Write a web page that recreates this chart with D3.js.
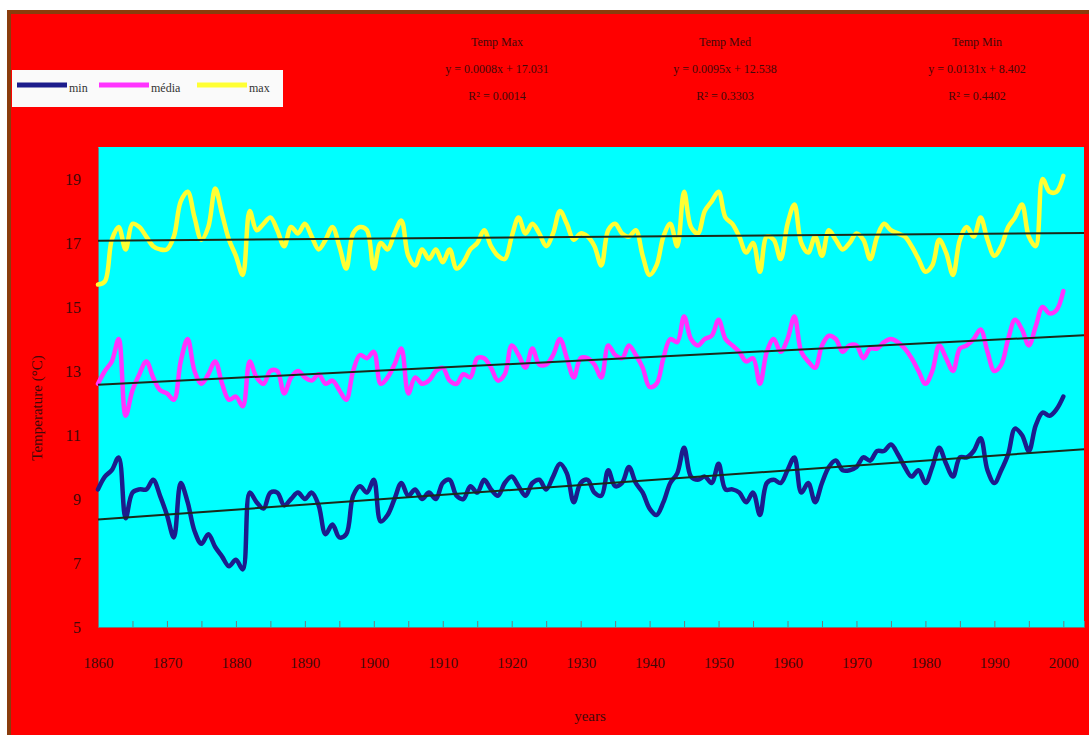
<!DOCTYPE html>
<html>
<head>
<meta charset="utf-8">
<script src="https://cdn.jsdelivr.net/npm/d3@7"></script>
<style>
  body { margin: 0; background: #fff; }
  svg { display: block; }
  text { font-family: "Liberation Serif", "Times New Roman", serif; }
</style>
</head>
<body>
<svg width="1089" height="735"></svg>
<script>
// anos 1860..2000
const years = d3.range(1860, 2001);

// temperaturas
const tMax = [
  15.7, 15.8, 17.1, 17.5, 16.8, 17.6, 17.5, 17.2, 16.9, 16.8,
  16.8, 17.2, 18.3, 18.6, 17.8, 17.1, 17.5, 18.7, 17.9, 17.1,
  16.6, 16.0, 18.0, 17.4, 17.6, 17.8, 17.4, 16.9, 17.5, 17.3,
  17.6, 17.2, 16.8, 17.1, 17.5, 16.9, 16.2, 17.3, 17.5, 17.4,
  16.2, 17.0, 16.8, 17.3, 17.7, 16.6, 16.3, 16.8, 16.5, 16.8,
  16.4, 16.8, 16.2, 16.4, 16.8, 17.0, 17.4, 16.9, 16.6, 16.5,
  17.2, 17.8, 17.3, 17.6, 17.3, 16.9, 17.3, 18.0, 17.6, 17.1,
  17.3, 17.2, 16.9, 16.3, 17.4, 17.6, 17.3, 17.2, 17.4, 16.6,
  16.0, 16.3, 17.2, 17.6, 16.9, 18.6, 17.5, 17.3, 18.0, 18.3,
  18.6, 17.8, 17.6, 17.2, 16.7, 17.0, 16.1, 17.2, 17.1, 16.5,
  17.6, 18.2, 17.0, 16.7, 17.2, 16.6, 17.4, 17.1, 16.8, 17.0,
  17.3, 17.1, 16.5, 17.2, 17.6, 17.4, 17.3, 17.2, 16.9, 16.5,
  16.1, 16.3, 17.1, 16.7, 16.0, 17.1, 17.5, 17.2, 17.8, 17.1,
  16.6, 16.9, 17.5, 17.8, 18.2, 17.2, 16.9, 19.0, 18.6, 18.6,
  19.1
];

const tMed = [
  12.6, 13.0, 13.3, 14.0, 11.6, 12.4, 12.9, 13.3, 12.8, 12.4,
  12.3, 12.1, 13.3, 14.0, 13.0, 12.6, 12.9, 13.3, 12.6, 12.1,
  12.2, 11.9, 13.3, 12.8, 12.6, 13.0, 13.0, 12.3, 12.8, 13.0,
  12.8, 12.7, 12.9, 12.6, 12.7, 12.4, 12.1, 13.0, 13.5, 13.4,
  13.6, 12.6, 12.8, 13.2, 13.7, 12.3, 12.8, 12.6, 12.7, 13.0,
  13.1, 12.7, 12.6, 12.9, 12.8, 13.4, 13.4, 13.1, 12.7, 12.9,
  13.8, 13.5, 13.1, 13.7, 13.2, 13.2, 13.5, 14.0, 13.4, 12.8,
  13.4, 13.4, 13.2, 12.8, 13.8, 13.5, 13.4, 13.8, 13.5, 13.1,
  12.5, 12.6, 13.4, 14.0, 13.9, 14.7, 14.0, 13.8, 14.0, 14.1,
  14.6, 14.0, 13.8, 13.6, 13.3, 13.4, 12.6, 13.6, 14.0, 13.6,
  14.0, 14.7, 13.6, 13.3, 13.1, 13.8, 14.1, 14.0, 13.6, 13.8,
  13.8, 13.4, 13.7, 13.7, 13.9, 14.0, 13.9, 13.7, 13.4, 13.0,
  12.6, 13.0, 13.8, 13.4, 13.0, 13.7, 13.8, 14.0, 14.3, 13.6,
  13.0, 13.2, 14.0, 14.6, 14.3, 13.8, 14.4, 15.0, 14.8, 14.9,
  15.5
];

const tMin = [
  9.3, 9.7, 9.9, 10.3, 8.4, 9.2, 9.3, 9.3, 9.6, 9.1,
  8.5, 7.8, 9.5, 8.9, 8.0, 7.6, 7.9, 7.5, 7.2, 6.9,
  7.1, 6.8, 9.2, 8.9, 8.7, 9.2, 9.2, 8.8, 9.0, 9.2,
  9.0, 9.2, 8.8, 7.9, 8.2, 7.8, 7.9, 9.1, 9.4, 9.2,
  9.6, 8.3, 8.5, 9.0, 9.5, 9.1, 9.3, 9.0, 9.2, 9.0,
  9.5, 9.6, 9.1, 9.0, 9.4, 9.2, 9.6, 9.3, 9.1, 9.5,
  9.7, 9.4, 9.1, 9.5, 9.6, 9.3, 9.7, 10.1, 9.8, 8.9,
  9.5, 9.6, 9.2, 9.1, 9.9, 9.4, 9.5, 10.0, 9.5, 9.2,
  8.7, 8.5, 8.9, 9.5, 9.8, 10.6, 9.7, 9.6, 9.7, 9.5,
  10.1, 9.3, 9.3, 9.2, 8.9, 9.2, 8.5, 9.5, 9.6, 9.5,
  9.9, 10.3, 9.2, 9.5, 8.9, 9.5, 10.0, 10.2, 9.9, 9.9,
  10.0, 10.3, 10.2, 10.5, 10.5, 10.7, 10.4, 10.0, 9.7, 9.9,
  9.5, 10.0, 10.6, 10.1, 9.7, 10.3, 10.3, 10.5, 10.9, 9.9,
  9.5, 9.9, 10.4, 11.2, 11.0, 10.5, 11.3, 11.7, 11.6, 11.8,
  12.2
];

const yTicks = [5, 7, 9, 11, 13, 15, 17, 19];
const xTickYears = d3.range(1860, 2001, 5);

const legendLabels = ["min", "média", "max"];
const eqLabels = [
  ["Temp Max", "y = 0.0008x + 17.031", "R² = 0.0014"],
  ["Temp Med", "y = 0.0095x + 12.538", "R² = 0.3303"],
  ["Temp Min", "y = 0.0131x + 8.402", "R² = 0.4402"]
];

// --- desenho ---
const svg = d3.select("svg");
const W = 1089, H = 735;
const plot = { left: 98, right: 1084, top: 147, bottom: 627 };
const txtColor = "#3f0a0a";

svg.append("rect").attr("width", W).attr("height", H).attr("fill", "#fff");
svg.append("rect").attr("x", 7).attr("y", 10).attr("width", W - 7).attr("height", H - 10).attr("fill", "#8a3c0c");
svg.append("rect").attr("x", 11).attr("y", 14).attr("width", W - 11).attr("height", H - 14).attr("fill", "#ff0000");

svg.append("rect")
  .attr("x", plot.left).attr("y", plot.top)
  .attr("width", plot.right - plot.left).attr("height", plot.bottom - plot.top)
  .attr("fill", "#00ffff");

const x = d3.scaleLinear().domain([1860, 2003]).range([plot.left, plot.right]);
const y = d3.scaleLinear().domain([5, 20]).range([plot.bottom, plot.top]);

// eixo x
const xAxis = svg.append("g")
  .attr("transform", `translate(0,${plot.bottom})`)
  .call(d3.axisBottom(x)
    .tickValues(xTickYears)
    .tickSize(-6)
    .tickPadding(30)
    .tickFormat(d => d % 10 === 0 ? String(d) : ""));
xAxis.select(".domain").attr("stroke", "#777");
xAxis.selectAll(".tick line").attr("stroke", "#777");
xAxis.selectAll("text").attr("fill", txtColor).style("font-size", "15px");

// eixo y
const yAxis = svg.append("g")
  .attr("transform", `translate(${plot.left},0)`)
  .call(d3.axisLeft(y).tickValues(yTicks).tickSize(0).tickPadding(17));
yAxis.select(".domain").attr("stroke", "#777");
yAxis.selectAll("text").attr("fill", txtColor).style("font-size", "16px");

svg.append("text")
  .attr("transform", "translate(42,408) rotate(-90)")
  .attr("text-anchor", "middle")
  .attr("fill", txtColor)
  .style("font-size", "15px")
  .text("Temperature (°C)");

svg.append("text")
  .attr("x", 590).attr("y", 721)
  .attr("text-anchor", "middle")
  .attr("fill", txtColor)
  .style("font-size", "15px")
  .text("years");

// séries
const series = [
  { name: legendLabels[0], data: tMin, color: "#1c1c8c" },
  { name: legendLabels[1], data: tMed, color: "#ff33ff" },
  { name: legendLabels[2], data: tMax, color: "#ffff33" }
];

// linhas suavizadas como no Excel
const line = d3.line()
  .x((d, i) => x(years[i]))
  .y(d => y(d))
  .curve(d3.curveCatmullRom.alpha(0.5));

for (const s of series) {
  svg.append("path")
    .datum(s.data)
    .attr("fill", "none")
    .attr("stroke", s.color)
    .attr("stroke-width", 4.5)
    .attr("stroke-linejoin", "round")
    .attr("stroke-linecap", "round")
    .attr("d", line);
}

// linhas de tendência (mínimos quadrados)
function tendencia(vals) {
  const mx = d3.mean(years), my = d3.mean(vals);
  let num = 0, den = 0;
  years.forEach((yr, i) => { num += (yr - mx) * (vals[i] - my); den += (yr - mx) ** 2; });
  const b = num / den;
  return yr => my + b * (yr - mx);
}

for (const s of series) {
  const f = tendencia(s.data);
  svg.append("line")
    .attr("x1", x(1860)).attr("y1", y(f(1860)))
    .attr("x2", x(2003)).attr("y2", y(f(2003)))
    .attr("stroke", "#1a2a1a")
    .attr("stroke-width", 2);
}

// legenda
const leg = svg.append("g");
leg.append("rect")
  .attr("x", 12).attr("y", 70).attr("width", 271).attr("height", 37)
  .attr("fill", "#fafafa");
const legPos = [17, 99, 197];
series.forEach((s, i) => {
  leg.append("line")
    .attr("x1", legPos[i]).attr("x2", legPos[i] + 50)
    .attr("y1", 85).attr("y2", 85)
    .attr("stroke", s.color).attr("stroke-width", 5);
  leg.append("text")
    .attr("x", legPos[i] + 52).attr("y", 92)
    .attr("fill", "#333")
    .style("font-size", "12px")
    .text(s.name);
});

// equações
const eqX = [497, 725, 977];
eqLabels.forEach((lines, i) => {
  lines.forEach((t, j) => {
    svg.append("text")
      .attr("x", eqX[i]).attr("y", 46 + j * 27)
      .attr("text-anchor", "middle")
      .attr("fill", txtColor)
      .style("font-size", "12px")
      .text(t);
  });
});
</script>
</body>
</html>
